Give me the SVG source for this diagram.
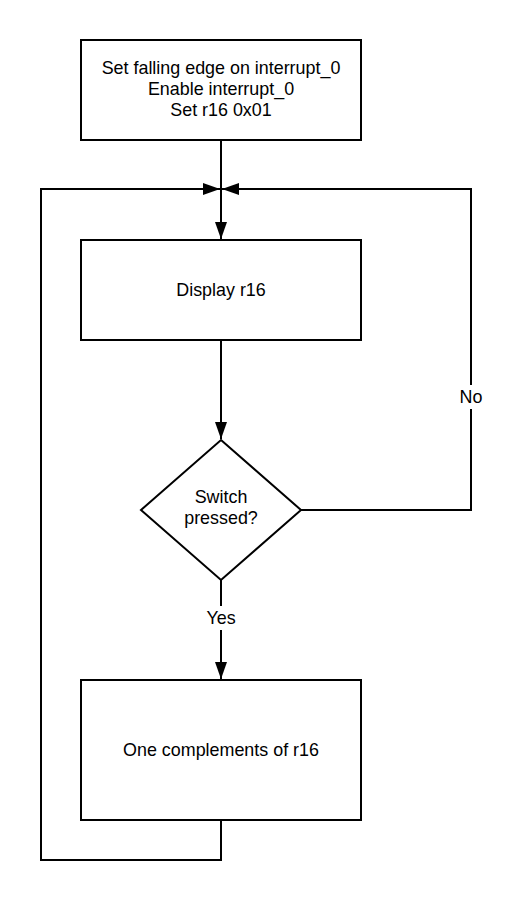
<svg xmlns="http://www.w3.org/2000/svg" width="522" height="902" viewBox="0 0 522 902">
<style>
.node{fill:#fff;stroke:#000;stroke-width:2}
.t{font-family:"Liberation Sans",Arial,sans-serif;font-size:17.9px;fill:#000;text-anchor:middle}
.edge{fill:none;stroke:#000;stroke-width:2}
.lbl{fill:#fff;stroke:none}
</style>
<defs>
<marker id="arr" markerUnits="userSpaceOnUse" markerWidth="18" markerHeight="12" refX="17" refY="6" orient="auto">
<path d="M0,0 L17,6 L0,12 z" fill="#000"/>
</marker>
</defs>
<rect width="522" height="902" fill="#fff"/>
<g id="connectors">
<path class="edge" d="M221,140 L221,239" marker-end="url(#arr)"/>
<path class="edge" d="M221,340 L221,439" marker-end="url(#arr)"/>
<path class="edge" d="M221,580 L221,679" marker-end="url(#arr)"/>
<path class="edge" d="M301,510 L471,510 L471,189 L222,189" marker-end="url(#arr)"/>
<path class="edge" d="M221,820 L221,860 L41,860 L41,189 L220,189" marker-end="url(#arr)"/>
<rect class="lbl" x="457" y="385" width="28" height="24"/>
<text class="t" x="471" y="403">No</text>
<rect class="lbl" x="203" y="606" width="36" height="24"/>
<text class="t" x="221" y="624">Yes</text>
</g>
<g id="init">
<rect class="node" x="81" y="40" width="280" height="100"/>
<text class="t" x="221" y="74">Set falling edge on interrupt_0</text>
<text class="t" x="221" y="95">Enable interrupt_0</text>
<text class="t" x="221" y="116">Set r16 0x01</text>
</g>
<g id="display">
<rect class="node" x="81" y="240" width="280" height="100"/>
<text class="t" x="221" y="296">Display r16</text>
</g>
<g id="decision">
<polygon class="node" points="221,440 301,510 221,580 141,510"/>
<text class="t" x="221" y="503">Switch</text>
<text class="t" x="221" y="524">pressed?</text>
</g>
<g id="complement">
<rect class="node" x="81" y="680" width="280" height="140"/>
<text class="t" x="221" y="756">One complements of r16</text>
</g>
</svg>
